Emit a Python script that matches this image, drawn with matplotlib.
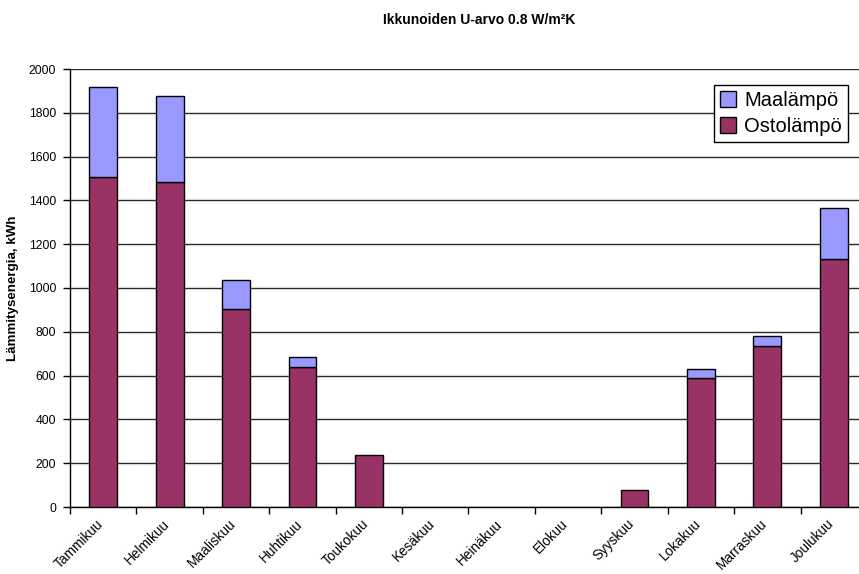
import matplotlib
matplotlib.use("Agg")
import matplotlib.pyplot as plt
import matplotlib.transforms as mtransforms
import numpy as np

plt.rcParams['font.family'] = ['Liberation Sans', 'DejaVu Sans']

months = ["Tammikuu", "Helmikuu", "Maaliskuu", "Huhtikuu", "Toukokuu", "Kesäkuu",
          "Heinäkuu", "Elokuu", "Syyskuu", "Lokakuu", "Marraskuu", "Joulukuu"]
ostolampo = [1507, 1484, 904, 639, 237, 0, 0, 0, 78, 589, 735, 1132]
maalampo = [411, 393, 133, 46, 0, 0, 0, 0, 0, 41, 46, 233]

title = "Ikkunoiden U-arvo 0.8 W/m²K"
ylabel = "Lämmitysenergia, kWh"
yticks = [0, 200, 400, 600, 800, 1000, 1200, 1400, 1600, 1800, 2000]

fig = plt.figure(figsize=(8.59, 5.74), dpi=100)
ax = fig.add_axes([70 / 859, 67 / 574, 797 / 859, 438 / 574])

x = np.arange(len(months))
w = 0.42
b1 = ax.bar(x, ostolampo, w, color="#993366", edgecolor="black", linewidth=1.0,
            label="Ostolämpö", zorder=3)
b2 = ax.bar(x, maalampo, w, bottom=ostolampo, color="#9999FF", edgecolor="black",
            linewidth=1.0, label="Maalämpö", zorder=3)
# empty months draw nothing
for bars in (b1, b2):
    for p in bars.patches:
        if p.get_height() == 0:
            p.set_visible(False)

ax.set_xlim(-0.5, len(months) - 0.5)
ax.set_ylim(0, 2000)
ax.set_yticks(yticks)
ax.set_yticklabels([str(v) for v in yticks], fontsize=8.7)
ax.yaxis.grid(True, color="#2a2a2a", linewidth=1.0, zorder=0)
ax.set_axisbelow(True)

ax.set_xticks(x)
ax.set_xticklabels(months, rotation=45, ha="right", rotation_mode="anchor", fontsize=9.8)
ax.tick_params(axis="x", which="major", length=0, pad=7)
shift = mtransforms.ScaledTranslation(-7 / 100, 0, fig.dpi_scale_trans)
for lbl in ax.get_xticklabels():
    lbl.set_transform(lbl.get_transform() + shift)
ax.set_xticks(np.arange(-0.5, len(months)), minor=True)
ax.tick_params(axis="x", which="minor", length=5, width=1, direction="out")
ax.tick_params(axis="y", length=5, width=1, direction="out", pad=5)

for s in ["top", "right"]:
    ax.spines[s].set_visible(False)
for s in ["left", "bottom"]:
    ax.spines[s].set_color("black")
    ax.spines[s].set_linewidth(1.0)

ax.set_ylabel(ylabel, fontsize=9.6, fontweight="bold", labelpad=7)
fig.text(479 / 859, 1 - 20 / 574, title, ha="center", va="center",
         fontsize=10, fontweight="bold")

leg = ax.legend([b2, b1], ["Maalämpö", "Ostolämpö"], loc="upper right",
                bbox_to_anchor=((848 - 70) / 797, (507 - 85) / 438),
                fontsize=14.5, frameon=True, fancybox=False, framealpha=1,
                edgecolor="black", handlelength=0.8, handleheight=0.8,
                handletextpad=0.4, borderpad=0.3, labelspacing=0.35,
                borderaxespad=0)
leg.get_frame().set_linewidth(1.0)

fig.savefig("out.png", dpi=100)
